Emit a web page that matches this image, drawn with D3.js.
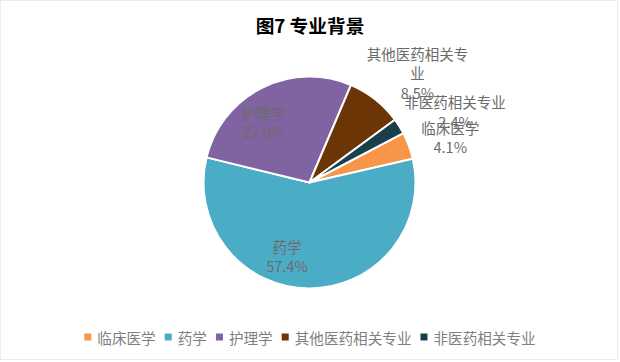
<!DOCTYPE html>
<html>
<head>
<meta charset="utf-8">
<script src="https://cdn.jsdelivr.net/npm/d3@7"></script>
<style>
  html, body { margin: 0; padding: 0; background: #fff; }
  svg { display: block; }
</style>
</head>
<body>
<svg id="chart"></svg>
<script>
const categories = ['临床医学', '药学', '护理学', '其他医药相关专业', '非医药相关专业'];
const shares = [4.1, 57.4, 27.6, 8.5, 2.4];
const colors = ['#F79646', '#4BACC6', '#8064A2', '#6B3505', '#193F4A'];
// label lines as Excel wrapped them
const labelLines = [['临床医学'], ['药学'], ['护理学'], ['其他医药相关专', '业'], ['非医药相关专业']];
// where each label sits: angle (deg, clockwise from 12 o'clock) and distance from the centre
const labelSpots = [
  { a: 72, r: 148 },
  { a: 197, r: 77 },
  { a: 322.5, r: 76 },
  { a: 44.5, r: 154 },
  { a: 64, r: 162 },
];

const width = 620;
const height = 362;
const font = '"Noto Sans CJK SC", "Noto Sans", sans-serif';
const cx = 309.5;
const cy = 182.5;
const radius = 106;
const startDeg = 62.3;

const svg = d3.select('#chart').attr('width', width).attr('height', height);

svg.append('rect')
  .attr('x', 0.5).attr('y', 0.5)
  .attr('width', width - 3).attr('height', height - 3)
  .attr('fill', '#fff')
  .attr('stroke', '#ececec');

svg.append('text')
  .attr('x', width / 2)
  .attr('y', 24)
  .attr('text-anchor', 'middle')
  .attr('dominant-baseline', 'central')
  .attr('font-family', font)
  .attr('font-size', '18.7px')
  .attr('font-weight', 'bold')
  .attr('fill', '#000')
  .text('图7 专业背景');

const data = categories.map((c, i) => ({ name: c, value: shares[i], color: colors[i], lines: labelLines[i], spot: labelSpots[i] }));

const pie = d3.pie()
  .value((d) => d.value)
  .sort(null)
  .startAngle((startDeg * Math.PI) / 180)
  .endAngle((startDeg * Math.PI) / 180 + 2 * Math.PI);

const arc = d3.arc().innerRadius(0).outerRadius(radius);

const g = svg.append('g').attr('transform', `translate(${cx},${cy})`);

g.selectAll('path')
  .data(pie(data))
  .join('path')
  .attr('d', arc)
  .attr('fill', (d) => d.data.color)
  .attr('stroke', '#fff')
  .attr('stroke-width', 2)
  .attr('stroke-linejoin', 'round');

const lineH = 19.5;
const labels = g.selectAll('g.lbl')
  .data(pie(data))
  .join('g')
  .attr('class', 'lbl')
  .attr('transform', (d) => {
    const p = d3.pointRadial((d.data.spot.a * Math.PI) / 180, d.data.spot.r);
    return `translate(${p[0]},${p[1]})`;
  });

labels.each(function (d) {
  const sel = d3.select(this);
  const lines = d.data.lines.concat([d.data.value.toFixed(1) + '%']);
  const top = -((lines.length - 1) * lineH) / 2;
  sel.selectAll('text')
    .data(lines)
    .join('text')
    .attr('x', 0)
    .attr('y', (t, i) => top + i * lineH)
    .attr('text-anchor', 'middle')
    .attr('dominant-baseline', 'central')
    .attr('font-family', font)
    .attr('font-size', '14.5px')
    .attr('fill', '#6b6b6b')
    .text((t) => t);
});

// legend
const legend = svg.append('g').attr('transform', 'translate(0,337)');
const items = legend.selectAll('g')
  .data(data)
  .join('g');

items.append('rect')
  .attr('y', -3.5)
  .attr('width', 7)
  .attr('height', 7)
  .attr('fill', (d) => d.color);

items.append('text')
  .attr('x', 13)
  .attr('y', 0)
  .attr('dominant-baseline', 'central')
  .attr('font-family', font)
  .attr('font-size', '14.6px')
  .attr('fill', '#7f7f7f')
  .text((d) => d.name);

let xs = [];
let total = 0;
items.each(function () {
  const w = this.getBBox().width;
  xs.push(total);
  total += w + 9;
});
total -= 9;
const x0 = (width - total) / 2;
items.attr('transform', (d, i) => `translate(${x0 + xs[i]},0)`);
</script>
</body>
</html>
